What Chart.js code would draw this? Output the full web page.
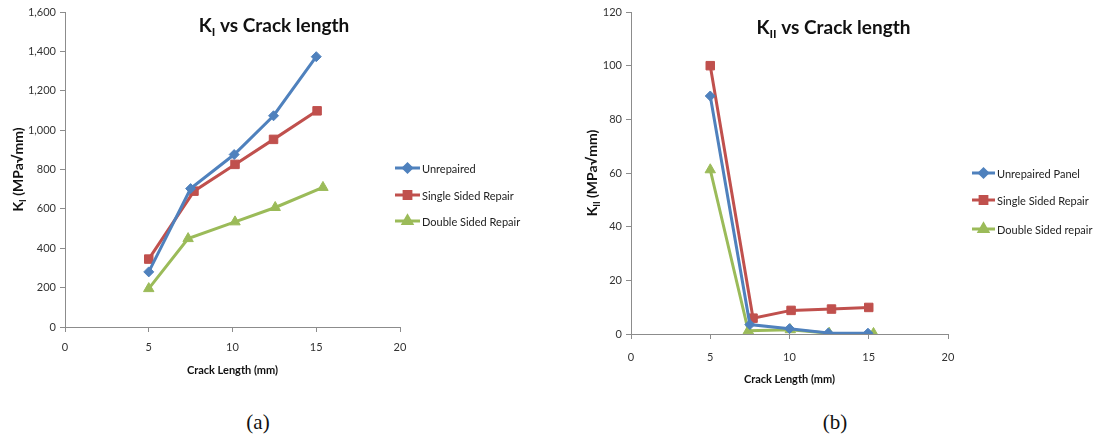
<!DOCTYPE html>
<html>
<head>
<meta charset="utf-8">
<script src="https://cdn.jsdelivr.net/npm/chart.js@4/dist/chart.umd.min.js"></script>
<style>
  html, body { margin: 0; padding: 0; background: #fff; }
  #page { position: relative; width: 1097px; height: 445px; overflow: hidden; }
  .panel { position: absolute; top: 0; height: 400px; }
  .caption { position: absolute; top: 410px; font-family: 'Liberation Serif', 'DejaVu Serif', serif; font-size: 21px; color: #111; transform: translateX(-50%); }
</style>
</head>
<body>
<div id="page">
  <div class="panel" style="left:0;width:548px"><canvas id="chartA" width="548" height="400"></canvas></div>
  <div class="panel" style="left:570px;width:527px"><canvas id="chartB" width="527" height="400"></canvas></div>
  <div class="caption" style="left:258px">(a)</div>
  <div class="caption" style="left:835px">(b)</div>
</div>
<script>
// ---- K_I data (crack length in mm, K_I in MPa√mm) ----
const unrepairedLenI = [5, 7.5, 10.1, 12.45, 15.0];
const unrepairedKI   = [280, 703, 876, 1073, 1373];
const singleLenI     = [5, 7.7, 10.15, 12.45, 15.05];
const singleKI       = [345, 690, 826, 953, 1098];
const doubleLenI     = [5, 7.35, 10.15, 12.55, 15.4];
const doubleKI       = [195, 449, 534, 607, 709];

// ---- K_II data ----
const unrepairedLenII = [5, 7.5, 10.0, 12.45, 14.95];
const unrepairedKII   = [88.7, 3.5, 2.0, 0.4, 0.3];
const singleLenII     = [5, 7.7, 10.1, 12.65, 15.0];
const singleKII       = [100, 5.9, 8.8, 9.3, 9.9];
const doubleLenII     = [5, 7.4, 10.05, 12.5, 15.3];
const doubleKII       = [61.2, 1.2, 1.6, 0.3, 0.2];

// ---- axis ticks ----
const lengthTicks = [0, 5, 10, 15, 20];
const kITicks  = [0, 200, 400, 600, 800, 1000, 1200, 1400, 1600];
const kIITicks = [0, 20, 40, 60, 80, 100, 120];

const BLUE = '#4F81BD', RED = '#C0504D', GREEN = '#9BBB59';
const FONT = "Lato, 'Open Sans', sans-serif";

function pairs(xs, ys) { return xs.map((x, i) => ({ x: x, y: ys[i] })); }

function series(label, xs, ys, color, style, radius) {
  return {
    label: label, data: pairs(xs, ys),
    borderColor: color, backgroundColor: color,
    borderWidth: 3, pointStyle: style, pointRadius: radius,
    pointHoverRadius: radius, pointBorderWidth: 1, tension: 0
  };
}

// Draws text made of normal and subscript runs, centred on x.
function drawRuns(ctx, runs, x, y, size, weight, color) {
  const subSize = Math.round(size * 0.62);
  let total = 0;
  runs.forEach(r => {
    ctx.font = weight + ' ' + (r.sub ? subSize : size) + 'px ' + FONT;
    total += ctx.measureText(r.t).width;
  });
  let cx = x - total / 2;
  ctx.fillStyle = color;
  ctx.textBaseline = 'alphabetic';
  ctx.textAlign = 'left';
  runs.forEach(r => {
    ctx.font = weight + ' ' + (r.sub ? subSize : size) + 'px ' + FONT;
    ctx.fillText(r.t, cx, r.sub ? y + size * 0.22 : y);
    cx += ctx.measureText(r.t).width;
  });
}

// Title, rotated y title with subscripts, and a side legend with line+marker keys.
const panelText = {
  id: 'panelText',
  afterDraw(chart, args, opts) {
    const ctx = chart.ctx;
    const area = chart.chartArea;
    ctx.save();
    drawRuns(ctx, opts.title, chart.width / 2 + opts.titleDx, opts.titleY, 19, 'bold', '#111');
    ctx.translate(opts.yTitleX, (area.top + area.bottom) / 2);
    ctx.rotate(-Math.PI / 2);
    drawRuns(ctx, opts.yTitle, 0, 0, 14, 'bold', '#111');
    ctx.restore();

    ctx.save();
    chart.data.datasets.forEach((ds, i) => {
      const y = opts.legendY[i];
      ctx.strokeStyle = ds.borderColor;
      ctx.lineWidth = 3;
      ctx.beginPath();
      ctx.moveTo(opts.legendX, y);
      ctx.lineTo(opts.legendX + opts.legendLen, y);
      ctx.stroke();
      ctx.fillStyle = ds.backgroundColor;
      Chart.helpers.drawPoint(ctx, {
        pointStyle: ds.pointStyle, radius: ds.pointRadius * 0.8, rotation: 0, borderWidth: 1
      }, opts.legendX + opts.legendLen / 2, y);
      ctx.fillStyle = '#222';
      ctx.font = '11px ' + FONT;
      ctx.textBaseline = 'middle';
      ctx.textAlign = 'left';
      ctx.fillText(ds.label, opts.legendX + opts.legendLen + 2, y + 1);
    });
    ctx.restore();
  }
};

function makeChart(id, datasets, yTicks, geom, text) {
  const yMax = yTicks[yTicks.length - 1];
  const yStep = yTicks[1] - yTicks[0];
  return new Chart(document.getElementById(id), {
    type: 'line',
    data: { datasets: datasets },
    plugins: [panelText],
    options: {
      responsive: false, animation: false,
      layout: { padding: { top: geom.top, right: geom.right, left: 0, bottom: geom.bottom } },
      plugins: { legend: { display: false }, tooltip: { enabled: false }, panelText: text },
      scales: {
        x: {
          type: 'linear', min: lengthTicks[0], max: lengthTicks[lengthTicks.length - 1],
          afterBuildTicks: s => { s.ticks = lengthTicks.map(v => ({ value: v })); },
          afterFit: s => { s.height = geom.xHeight; },
          border: { display: true, color: '#8c8c8c', width: 1 },
          grid: { drawOnChartArea: false, drawTicks: true, tickLength: 5, color: '#8c8c8c' },
          ticks: { color: '#333', font: { family: FONT, size: 11 }, padding: geom.xTickPad },
          title: { display: true, text: 'Crack Length (mm)', color: '#111',
                   font: { family: FONT, size: 11, weight: 'bold' }, padding: { top: 4, bottom: 0 } }
        },
        y: {
          type: 'linear', min: 0, max: yMax,
          ticks: { stepSize: yStep, color: '#333', font: { family: FONT, size: 11 }, padding: 4 },
          afterFit: s => { s.width = geom.yWidth; },
          border: { display: true, color: '#8c8c8c', width: 1 },
          grid: { drawOnChartArea: false, drawTicks: true, tickLength: 5, color: '#8c8c8c' }
        }
      }
    }
  });
}

makeChart('chartA', [
  series('Unrepaired', unrepairedLenI, unrepairedKI, BLUE, 'rectRot', 5),
  series('Single Sided Repair', singleLenI, singleKI, RED, 'rect', 6),
  series('Double Sided Repair', doubleLenI, doubleKI, GREEN, 'triangle', 6)
], kITicks,
  { top: 12, right: 148, bottom: 23, xHeight: 50, yWidth: 65, xTickPad: 9 },
  { title: [{ t: 'K' }, { t: 'I', sub: true }, { t: ' vs Crack length' }], titleDx: 0, titleY: 32,
    yTitle: [{ t: 'K' }, { t: 'I', sub: true }, { t: ' (MPa√mm)' }], yTitleX: 23,
    legendX: 395, legendLen: 25, legendY: [168, 195, 221] });

makeChart('chartB', [
  series('Unrepaired Panel', unrepairedLenII, unrepairedKII, BLUE, 'rectRot', 5),
  series('Single Sided Repair', singleLenII, singleKII, RED, 'rect', 6),
  series('Double Sided repair', doubleLenII, doubleKII, GREEN, 'triangle', 6)
], kIITicks,
  { top: 12, right: 149, bottom: 14, xHeight: 52, yWidth: 61, xTickPad: 12 },
  { title: [{ t: 'K' }, { t: 'II', sub: true }, { t: ' vs Crack length' }], titleDx: 0, titleY: 34,
    yTitle: [{ t: 'K' }, { t: 'II', sub: true }, { t: ' (MPa√mm)' }], yTitleX: 27,
    legendX: 402, legendLen: 23, legendY: [173, 200, 229] });
</script>
</body>
</html>
